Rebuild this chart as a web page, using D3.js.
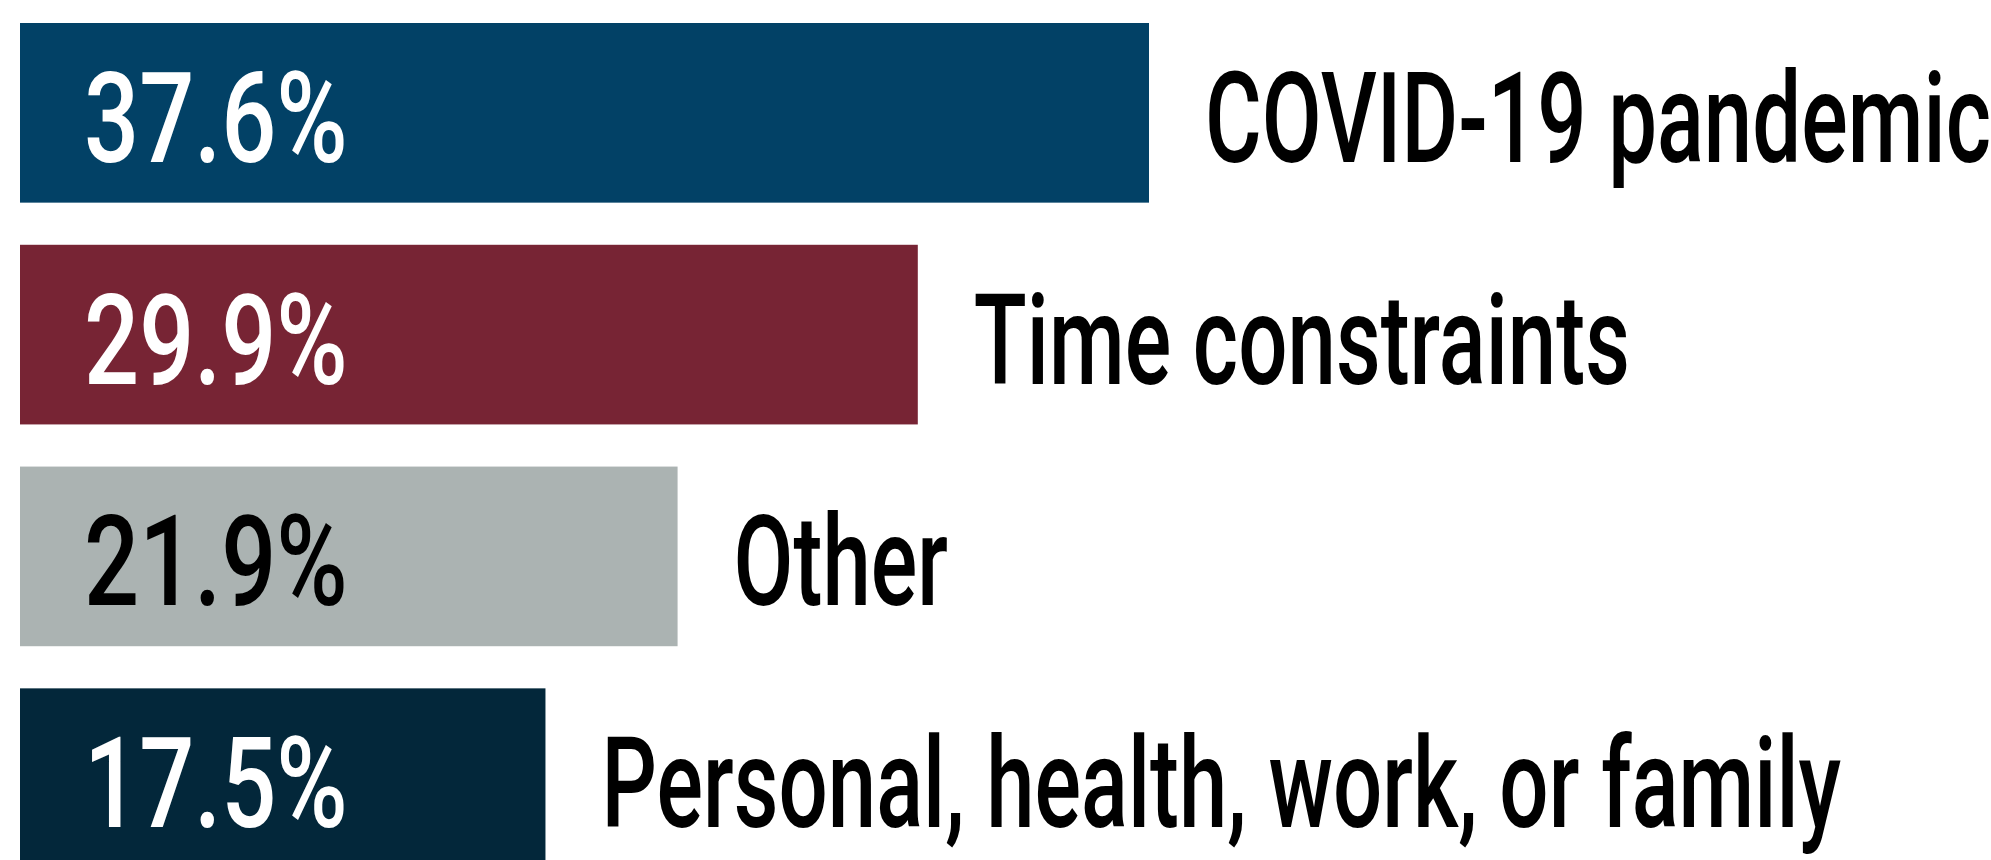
<!DOCTYPE html>
<meta charset="utf-8">
<head>
  <title>Reasons</title>
</head>

<style>
body { margin: 0; background: #fff; }
text { font-family: Roboto, "Noto Sans", sans-serif; }
</style>

<body>
  <svg width="1991" height="860"></svg>

  <script src="https://cdnjs.cloudflare.com/ajax/libs/d3/7.8.5/d3.min.js"></script>

  <script>
var width = 1991, height = 860

// data
var categories = ["COVID-19 pandemic", "Time constraints", "Other", "Personal, health, work, or family"]
var values = [37.6, 29.9, 21.9, 17.5]
var barColors = ["#024166", "#772434", "#abb3b2", "#03273a"]
var valueColors = ["#fff", "#fff", "#000", "#fff"]

var rows = categories.map(function(c, i) {
  return {name: c, value: values[i], fill: barColors[i], ink: valueColors[i]}
})

var x = d3.scaleLinear()
  .domain([0, 37.6])
  .range([20, 1149])

var y = d3.scaleBand()
  .domain(categories)
  .range([23, 868])
  .paddingInner(0.19)
  .paddingOuter(0)

var svg = d3.select('svg')

var g = svg.selectAll('g.row')
  .data(rows)
  .enter()
  .append('g')
  .attr('class', 'row')

g.append('rect')
  .attr('x', x(0))
  .attr('y', function(d) { return y(d.name) })
  .attr('width', function(d) { return x(d.value) - x(0) })
  .attr('height', y.bandwidth())
  .attr('fill', function(d) { return d.fill })

var fontSize = 126
function baseline(d) { return y(d.name) + y.bandwidth() / 2 + 49 }

// value inside the bar (condensed look by squeezing the glyphs)
g.append('text')
  .attr('transform', function(d) {
    return 'translate(84,' + baseline(d) + ') scale(0.77,1)'
  })
  .attr('font-size', fontSize)
  .attr('font-weight', 500)
  .attr('fill', function(d) { return d.ink })
  .text(function(d) { return d.value.toFixed(1) + '%' })

// category name after the bar
g.append('text')
  .attr('transform', function(d) {
    return 'translate(' + (x(d.value) + 56) + ',' + baseline(d) + ') scale(0.69,1)'
  })
  .attr('font-size', fontSize)
  .attr('font-weight', 500)
  .attr('fill', '#000')
  .text(function(d) { return d.name })
  </script>
</body>
</html>
